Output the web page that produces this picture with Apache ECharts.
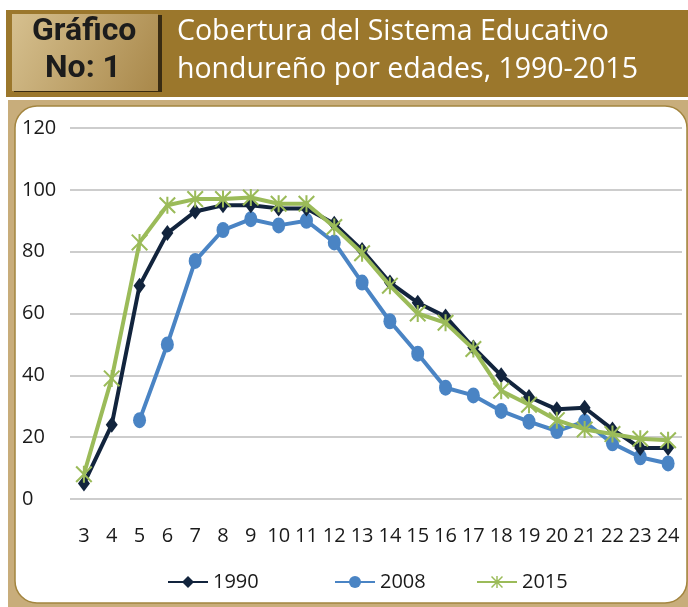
<!DOCTYPE html>
<html>
<head>
<meta charset="utf-8">
<script src="https://cdn.jsdelivr.net/npm/echarts@6/dist/echarts.min.js"></script>
<style>
  html, body { margin: 0; padding: 0; background: #fff; }
  #chart { width: 688px; height: 607px; }
</style>
</head>
<body>
<div id="chart"></div>
<script>
// edades (categorías del eje x)
const ages = ['3', '4', '5', '6', '7', '8', '9', '10', '11', '12', '13', '14', '15', '16', '17', '18', '19', '20', '21', '22', '23', '24'];
const yTicks = [0, 20, 40, 60, 80, 100, 120];

const cov1990 = [5, 24, 69, 86, 93, 95, 95, 94, 94, 89, 80.5, 70, 63.5, 59, 49, 40, 33, 29, 29.5, 22.5, 16.5, 16.5];
const cov2008 = [null, null, 25.5, 50, 77, 87, 90.5, 88.5, 90, 83, 70, 57.5, 47, 36, 33.5, 28.5, 25, 22, 25, 18, 13.5, 11.5];
const cov2015 = [8, 39, 83, 95, 97, 97, 97.5, 95.5, 95.5, 88, 79.5, 69, 60, 57, 48.5, 35, 30.5, 25.5, 22.5, 21, 19.5, 19];

const seriesNames = ['1990', '2008', '2015'];
const legendLeft = [162, 329, 471];

// asterisco tipo Excel (vertical + X)
const starPath = 'path://M8.8 0 H11.2 V20 H8.8 Z M0 1.7 L1.7 0 L20 18.3 L18.3 20 Z M18.3 0 L20 1.7 L1.7 20 L0 18.3 Z';

const font = '"Open Sans", Lato, sans-serif';

const chart = echarts.init(document.getElementById('chart'));

const option = {
  animation: false,
  graphic: [
    // franja superior café
    { type: 'rect', z: -10, shape: { x: 6, y: 10, width: 682, height: 87 }, style: { fill: '#9b772c' } },
    // caja "Gráfico No: 1"
    { type: 'rect', z: -9, shape: { x: 14, y: 15, width: 148, height: 77 }, style: { fill: '#3a2c12' } },
    {
      type: 'rect', z: -8, shape: { x: 12, y: 14, width: 146, height: 77 },
      style: {
        fill: new echarts.graphic.LinearGradient(0, 0, 1, 1, [
          { offset: 0, color: '#d6c08f' },
          { offset: 1, color: '#a9884a' }
        ])
      }
    },
    {
      type: 'text', z: 5, left: 32, top: 16,
      style: { text: 'Gráfico', font: 'bold 32px "Liberation Sans Narrow", Roboto, sans-serif', fill: '#1c1c1c' }
    },
    {
      type: 'text', z: 5, left: 45, top: 53,
      style: { text: 'No: 1', font: 'bold 32px "Liberation Sans Narrow", Roboto, sans-serif', fill: '#1c1c1c' }
    },
    {
      type: 'text', z: 5, left: 177, top: 13,
      style: {
        text: 'Cobertura del Sistema Educativo\nhondureño por edades, 1990-2015',
        font: '28.5px ' + font, lineHeight: 38, fill: '#ffffff'
      }
    },
    // marco claro del gráfico
    { type: 'rect', z: -10, shape: { x: 8, y: 100, width: 680, height: 507 }, style: { fill: '#c8ad7b' } },
    {
      type: 'rect', z: -9, shape: { x: 15, y: 106, width: 672, height: 497, r: 22 },
      style: { fill: '#ffffff', stroke: '#a3853f', lineWidth: 1.5 }
    }
  ],
  legend: seriesNames.map((name, i) => ({
    data: [name],
    left: legendLeft[i],
    top: 567,
    itemWidth: 40,
    itemHeight: 15,
    textStyle: { fontSize: 20, color: '#1a1a1a', fontFamily: font }
  })),
  grid: { left: 70, right: 6, top: 128, bottom: 108, containLabel: false },
  xAxis: {
    type: 'category',
    data: ages,
    boundaryGap: true,
    axisLine: { show: false },
    axisTick: { show: false },
    axisLabel: { margin: 27, fontSize: 20, color: '#1a1a1a', fontFamily: font, interval: 0 }
  },
  yAxis: {
    type: 'value',
    min: yTicks[0],
    max: yTicks[yTicks.length - 1],
    interval: 20,
    axisLine: { show: false },
    axisTick: { show: false },
    axisLabel: { margin: 48, align: 'left', fontSize: 20, color: '#1a1a1a', fontFamily: font },
    splitLine: { lineStyle: { color: '#bdbdbd', width: 1.5 } }
  },
  series: [
    {
      name: '1990', type: 'line', data: cov1990,
      symbol: 'diamond', symbolSize: [12, 16],
      lineStyle: { color: '#12243d', width: 4 },
      itemStyle: { color: '#12243d' },
      z: 3
    },
    {
      name: '2008', type: 'line', data: cov2008,
      symbol: 'circle', symbolSize: [13, 16],
      lineStyle: { color: '#4a84c4', width: 4 },
      itemStyle: { color: '#4a84c4' },
      z: 2
    },
    {
      name: '2015', type: 'line', data: cov2015,
      symbol: starPath, symbolSize: 17,
      lineStyle: { color: '#9bbb59', width: 4 },
      itemStyle: { color: '#9bbb59' },
      z: 4
    }
  ]
};

chart.setOption(option);
</script>
</body>
</html>
